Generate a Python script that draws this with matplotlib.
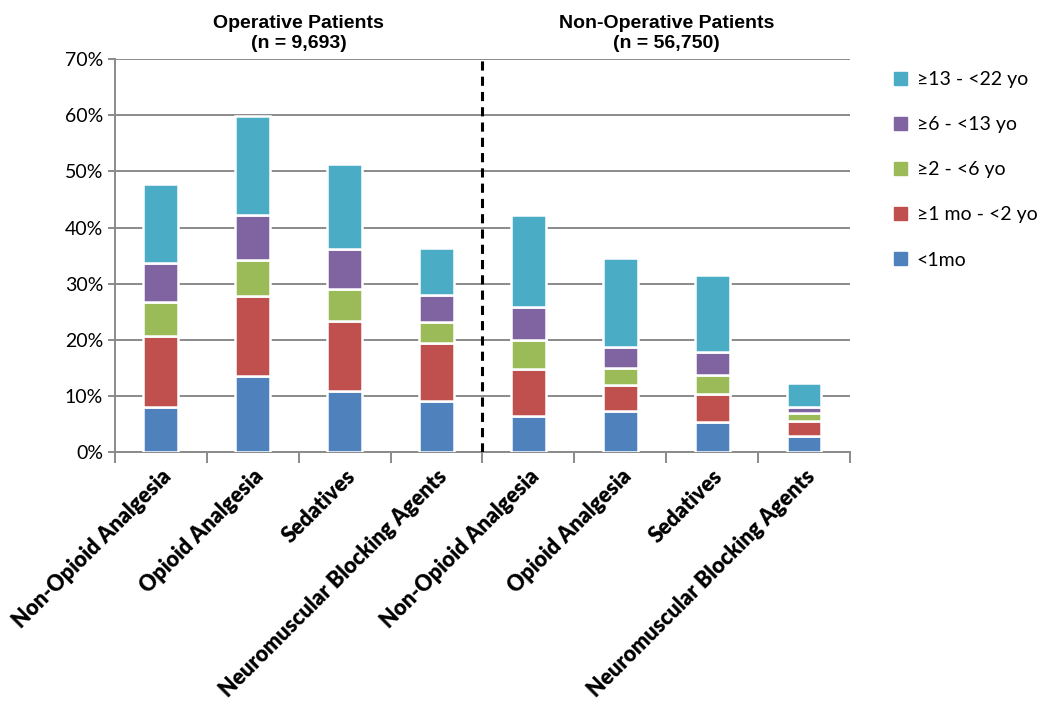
import numpy as np
import matplotlib.pyplot as plt
from matplotlib.patches import Patch

plt.rcParams["font.family"] = ["Lato", "DejaVu Sans"]

# ---- data (percent of patients) ----
categories = ["Non-Opioid Analgesia", "Opioid Analgesia", "Sedatives",
              "Neuromuscular Blocking Agents"] * 2
age_groups = ["<1mo", "\u22651 mo - <2 yo", "\u22652 - <6 yo",
              "\u22656 - <13 yo", "\u226513 - <22 yo"]
lt_1mo   = [8.0, 13.5, 10.8, 9.1, 6.4, 7.4, 5.3, 2.9]
mo1_2yo  = [12.7, 14.3, 12.6, 10.3, 8.4, 4.6, 5.0, 2.7]
yo2_6    = [6.1, 6.4, 5.6, 3.8, 5.2, 3.0, 3.5, 1.3]
yo6_13   = [6.9, 8.1, 7.1, 4.8, 5.8, 3.8, 4.1, 1.2]
yo13_22  = [14.1, 17.5, 15.3, 8.4, 16.5, 15.7, 13.6, 4.2]
groups = ["Operative Patients\n(n = 9,693)",
          "Non-Operative Patients\n(n = 56,750)"]

colors = ["#4F81BD", "#C0504D", "#9BBB59", "#8064A2", "#4BACC6"]
series = [lt_1mo, mo1_2yo, yo2_6, yo6_13, yo13_22]

fig = plt.figure(figsize=(10.5, 7.12), dpi=100)
ax = fig.add_axes([0.1095, 0.365, 0.70, 0.552])

x = np.arange(len(categories))
bottom = np.zeros(len(categories))
for vals, col, lab in zip(series, colors, age_groups):
    ax.bar(x, vals, width=0.38, bottom=bottom, color=col,
           edgecolor="white", linewidth=1.8, label=lab, zorder=3)
    bottom += np.array(vals)

ax.set_xlim(-0.5, 7.5)
ax.set_ylim(0, 70)
ax.set_yticks(np.arange(0, 71, 10))
ax.set_yticklabels([f"{v}%" for v in range(0, 71, 10)], fontsize=14)
ax.yaxis.grid(True, color="#8a8a8a", linewidth=1.4, zorder=0)
ax.set_axisbelow(True)

# category boundary ticks, labels at centres
ax.set_xticks(np.arange(-0.5, 8, 1))
ax.set_xticklabels([])
ax.set_xticks(x, minor=True)
ax.set_xticklabels(categories, minor=True, rotation=45, ha="right",
                   rotation_mode="anchor", fontsize=15.5, fontweight="heavy")
ax.tick_params(axis="x", which="minor", length=0, pad=10)
ax.tick_params(axis="x", which="major", length=8, color="#8a8a8a", width=1.4)
ax.tick_params(axis="y", length=5, color="#8a8a8a", width=1.4)

for s in ["top", "right"]:
    ax.spines[s].set_visible(False)
for s in ["left", "bottom"]:
    ax.spines[s].set_color("#8a8a8a")
    ax.spines[s].set_linewidth(1.4)

ax.axvline(3.5, color="black", linestyle=(0, (3, 2)), linewidth=2.2,
           zorder=4)

for i, g in enumerate(groups):
    ax.text(1.5 + 4 * i, 71.3, g, ha="center", va="bottom", fontsize=14,
            fontweight="bold", family=["Liberation Sans", "DejaVu Sans"],
            linespacing=1.25)

handles = [Patch(color=c) for c in colors][::-1]
fig.legend(handles, age_groups[::-1], loc="upper left",
           bbox_to_anchor=(0.835, 0.925), frameon=False, fontsize=14,
           handlelength=0.65, handleheight=0.65, labelspacing=1.45,
           handletextpad=0.5)

fig.savefig("out.png", dpi=100)
